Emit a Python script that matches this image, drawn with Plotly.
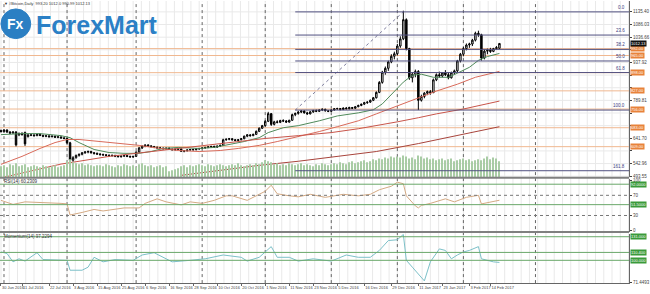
import plotly.graph_objects as go
import pandas as pd

# ---------------- data ----------------
dates = pd.bdate_range("2016-06-30", "2017-02-17")
bar = list(range(len(dates)))

open_ = [672, 668, 674, 666, 662, 666, 655, 661, 664, 648,
         655, 654, 652, 657, 653, 650, 651, 648, 650, 646,
         647, 643, 641, 624, 556, 566, 575, 579, 585, 588,
         590, 585, 583, 580, 578, 577, 575, 574, 575, 572,
         570, 572, 574, 571, 569, 571, 588, 604, 611, 615,
         612, 609, 606, 604, 603, 601, 603, 599, 597, 599,
         600, 591, 593, 596, 598, 597, 600, 602, 604, 606,
         608, 610, 607, 611, 614, 636, 638, 640, 636, 633,
         636, 640, 650, 655, 652, 657, 669, 681, 691, 708,
         738, 696, 706, 704, 711, 709, 705, 712, 734, 739,
         744, 748, 741, 737, 745, 750, 747, 752, 755, 749,
         747, 752, 757, 758, 754, 760, 757, 762, 759, 765,
         770, 775, 781, 783, 790, 800, 821, 860, 900, 915,
         940, 962, 972, 1002, 1030, 1105, 992, 878, 892, 903,
         790, 805, 818, 824, 820, 870, 890, 885, 897, 890,
         878, 898, 905, 944, 970, 992, 1006, 1010, 1025, 1052,
         1046, 955, 982, 986, 981, 992, 993.20]
high = [676, 678, 677, 670, 669, 670, 664, 665, 668, 658,
        660, 659, 660, 661, 656, 655, 654, 653, 652, 650,
        649, 647, 644, 628, 572, 578, 582, 588, 592, 594,
        593, 588, 586, 584, 582, 580, 579, 578, 577, 575,
        574, 576, 576, 574, 573, 590, 608, 614, 618, 619,
        615, 612, 610, 608, 606, 605, 606, 602, 601, 603,
        602, 595, 598, 600, 601, 602, 604, 606, 608, 610,
        612, 613, 613, 617, 640, 641, 643, 642, 639, 638,
        642, 652, 658, 658, 660, 672, 684, 694, 712, 745,
        740, 710, 712, 714, 716, 713, 714, 738, 742, 748,
        752, 751, 745, 748, 753, 754, 755, 758, 757, 752,
        755, 760, 761, 760, 762, 764, 765, 764, 767, 773,
        777, 784, 786, 793, 803, 825, 865, 905, 922, 945,
        970, 980, 1010, 1040, 1140, 1110, 995, 900, 910, 908,
        812, 822, 828, 830, 875, 895, 902, 900, 908, 898,
        902, 910, 948, 975, 998, 1012, 1015, 1030, 1058, 1062,
        1050, 988, 992, 995, 995, 1002, 1012.0]
low = [664, 665, 663, 658, 660, 610, 650, 652, 612, 645,
       650, 648, 650, 650, 646, 646, 644, 645, 643, 642,
       640, 638, 620, 545, 550, 562, 570, 575, 581, 583,
       582, 578, 577, 574, 573, 571, 570, 570, 568, 567,
       566, 569, 568, 566, 565, 569, 585, 600, 607, 608,
       606, 603, 601, 600, 598, 597, 596, 594, 593, 596,
       588, 587, 590, 593, 594, 595, 597, 599, 601, 603,
       605, 604, 605, 608, 612, 632, 634, 633, 630, 631,
       634, 638, 646, 648, 650, 655, 666, 678, 688, 705,
       690, 692, 700, 701, 705, 702, 703, 710, 728, 734,
       740, 738, 734, 735, 741, 744, 745, 748, 746, 744,
       745, 750, 753, 751, 752, 755, 755, 756, 757, 763,
       767, 772, 776, 780, 787, 797, 818, 855, 890, 905,
       935, 950, 965, 995, 1025, 985, 870, 860, 880, 752,
       785, 798, 810, 812, 818, 865, 878, 880, 885, 872,
       875, 890, 900, 938, 962, 985, 995, 1002, 1020, 1038,
       945, 950, 970, 975, 978, 988, 990.99]
close = [668, 674, 666, 662, 666, 616, 661, 656, 620, 655,
         654, 652, 657, 653, 650, 651, 648, 650, 646, 647,
         643, 641, 624, 556, 566, 575, 579, 585, 588, 590,
         585, 583, 580, 578, 577, 575, 574, 575, 572, 570,
         572, 574, 571, 569, 571, 588, 604, 611, 615, 612,
         609, 606, 604, 603, 601, 603, 599, 597, 599, 600,
         591, 593, 596, 598, 597, 600, 602, 604, 606, 608,
         610, 607, 611, 614, 636, 638, 640, 636, 633, 636,
         640, 650, 655, 652, 657, 669, 681, 691, 708, 738,
         696, 706, 704, 711, 709, 705, 712, 734, 739, 744,
         748, 741, 737, 745, 750, 747, 752, 755, 749, 747,
         752, 757, 758, 754, 760, 757, 762, 759, 765, 770,
         775, 781, 783, 790, 800, 821, 860, 900, 915, 940,
         962, 972, 1002, 1030, 1105, 992, 878, 892, 903, 790,
         805, 818, 824, 820, 870, 890, 885, 897, 890, 878,
         898, 905, 944, 970, 992, 1006, 1010, 1025, 1052, 1046,
         955, 982, 986, 981, 992, 996, 1012.13]
volume = [11, 12, 10, 13, 12, 14, 11, 12, 13, 10, 11, 12, 11, 10, 12, 11, 10, 11, 12, 10, 11, 12,
          16, 18, 15, 14, 13, 14, 12, 13, 12, 11, 12,
          12, 11, 13, 12, 11, 10, 12, 11, 13, 12, 11, 12, 10, 13, 14, 12, 11, 12, 10, 11, 12, 10, 11,
          6, 7, 8, 9, 11, 12, 10,
          12, 11, 12, 13, 12, 11, 13, 12, 11, 12, 13, 12, 11, 12, 13, 12, 14, 12, 11, 12, 13, 12, 14, 13, 15,
          17, 16, 15, 13, 14, 12, 13, 12, 14, 13, 12, 13, 14, 12, 13, 12, 11, 13, 12, 14, 13, 12, 13,
          14, 13, 15, 14, 13, 15, 16, 14, 15, 16, 17, 15, 16, 18, 17, 19, 18, 20, 19, 21, 20,
          21, 20, 22, 21, 19, 20, 18, 22, 21, 19, 20, 18, 19, 17, 18, 19, 17, 18, 19, 16, 17, 18, 19, 17,
          18, 16, 17, 18, 17, 19, 21, 18, 20, 19, 16]

tick_idx = [0, 7, 16, 24, 32, 40, 48, 56, 64, 72, 80, 88, 96, 104, 112, 121, 130, 139, 147, 156, 163]
tick_labels = ["30 Jun 2016", "11 Jul 2016", "22 Jul 2016", "3 Aug 2016", "15 Aug 2016", "25 Aug 2016",
               "6 Sep 2016", "16 Sep 2016", "28 Sep 2016", "10 Oct 2016", "20 Oct 2016", "1 Nov 2016",
               "11 Nov 2016", "23 Nov 2016", "5 Dec 2016", "16 Dec 2016", "29 Dec 2016", "11 Jan 2017",
               "23 Jan 2017", "3 Feb 2017", "14 Feb 2017"]
separators = [1, 22, 45, 67, 88, 110, 132, 154, 178]

price_ticks = [1135.40, 1086.03, 1036.66, 987.29, 937.92, 888.55, 839.18, 789.81,
               740.44, 691.07, 641.70, 592.33, 542.96, 493.55]

ma20_x = [0, 7, 13, 20, 23, 26, 31, 36, 41, 46, 50, 54, 59, 66, 71, 76, 81, 86, 89, 94, 99, 106, 112, 119, 124, 127, 130, 134, 137, 140, 144, 149, 152, 156, 159, 162, 166]
ma20_y = [656, 660, 660, 652, 644, 625, 598, 586, 583, 583, 590, 602, 606, 602, 606, 617, 629, 644, 664, 683, 691, 710, 729, 741, 753, 776, 811, 861, 888, 892, 880, 880, 896, 919, 946, 961, 973]
ma50_x = [0, 7, 13, 18, 22, 26, 33, 40, 46, 53, 59, 66, 73, 79, 86, 92, 99, 106, 112, 119, 125, 132, 139, 145, 152, 158, 166]
ma50_y = [540, 571, 602, 625, 637, 637, 629, 621, 614, 602, 594, 590, 594, 602, 614, 629, 648, 668, 687, 710, 737, 768, 799, 826, 853, 880, 903]
ma100_x = [0, 10, 20, 26, 36, 45, 56, 67, 79, 88, 99, 110, 119, 125, 132, 139, 145, 154, 160, 166]
ma100_y = [487, 514, 541, 552, 571, 583, 598, 614, 629, 641, 652, 664, 679, 691, 706, 722, 737, 756, 772, 787]
ma200_x = [60, 73, 86, 99, 109, 125, 139, 152, 166]
ma200_y = [497, 517, 536, 552, 567, 590, 621, 652, 687]

fib_names = ["0.0", "23.6", "38.2", "50.0", "61.8", "100.0", "161.8"]
fib_ratio = [0.0, 0.236, 0.382, 0.5, 0.618, 1.0, 1.618]
fib_high = 1135.40
fib_low = 752.0
fib_start = 98
fib_end = 134

levels_orange = [992, 965, 898, 827, 756, 683, 609]

rsi_x = [0, 4, 8, 14, 20, 22, 23, 27, 31, 34, 37, 41, 46, 48, 52, 55, 60, 63, 67, 71, 75, 77, 82, 88, 90, 92, 96, 99, 103, 108, 114, 119, 123, 126, 130, 132, 134, 135, 138, 139, 140, 143, 148, 151, 155, 158, 159, 160, 163, 166]
rsi_y = [60, 52, 57, 56, 54, 53, 31, 36, 42, 39, 42, 45, 45, 54, 63, 57, 51, 57, 54, 60, 69, 69, 60, 78, 90, 73, 69, 67, 72, 66, 72, 69, 72, 81, 88, 96, 93, 69, 49, 45, 50, 54, 63, 57, 66, 70, 70, 53, 57, 60.23]
mom_x = [0, 2, 4, 6, 8, 12, 14, 22, 23, 27, 29, 31, 34, 38, 44, 47, 51, 54, 57, 63, 68, 74, 80, 82, 86, 90, 92, 96, 99, 104, 110, 115, 119, 123, 126, 129, 132, 134, 135, 137, 141, 143, 146, 148, 150, 152, 154, 156, 159, 160, 164, 166]
mom_y = [111, 109, 98, 102, 99, 110, 101, 100, 87, 87, 91, 104, 98, 101, 100, 107, 110, 104, 98, 100, 102, 107, 104, 99, 104, 118, 104, 104, 99, 102, 99, 107, 104, 104, 113, 126, 127, 134, 100, 91, 73, 98, 115, 113, 102, 107, 111, 113, 118, 102, 98, 97.23]

# ---------------- geometry ----------------
W, H = 650, 294
XR = [-0.33, 209.2]
XE = 635 / W
P_LO, P_HI = 489.8, 1177.9


def py(p):
    return 1 - p / H


def price_px(v):
    return 178 * (P_HI - v) / (P_HI - P_LO)


fig = go.Figure()

fig.add_trace(go.Bar(x=bar, y=volume, width=0.3, marker=dict(color="#a9cca5", line_width=0),
                     yaxis="y4", hoverinfo="skip"))
fig.add_trace(go.Candlestick(x=bar, open=open_, high=high, low=low, close=close,
                             increasing=dict(line=dict(color="black", width=1), fillcolor="white"),
                             decreasing=dict(line=dict(color="black", width=1), fillcolor="black"),
                             whiskerwidth=0, yaxis="y"))
for xs, ys, col in [(ma20_x, ma20_y, "#4f8a5a"), (ma50_x, ma50_y, "#d86a5a"),
                    (ma100_x, ma100_y, "#c8554a"), (ma200_x, ma200_y, "#a8443c")]:
    fig.add_trace(go.Scatter(x=xs, y=ys, mode="lines", line=dict(color=col, width=1), yaxis="y"))
fig.add_trace(go.Scatter(x=[fib_start, fib_end], y=[fib_low, fib_high], mode="lines",
                         line=dict(color="#8080a0", width=1, dash="dot"), yaxis="y"))
fig.add_trace(go.Scatter(x=rsi_x, y=rsi_y, mode="lines", line=dict(color="#d4aa84", width=1), yaxis="y2"))
fig.add_trace(go.Scatter(x=mom_x, y=mom_y, mode="lines", line=dict(color="#7cc0c8", width=1), yaxis="y3"))

shapes = []
g = 0.0
while g < XR[1]:
    shapes.append(dict(type="line", xref="x", yref="paper", x0=g, x1=g, y0=py(285), y1=1,
                       line=dict(color="#e9e9e9", width=1), layer="below"))
    g += 2.75
for t in price_ticks:
    shapes.append(dict(type="line", xref="paper", yref="y", x0=0, x1=XE, y0=t, y1=t,
                       line=dict(color="#e9e9e9", width=1), layer="below"))
for s in separators:
    shapes.append(dict(type="line", xref="x", yref="paper", x0=s, x1=s, y0=py(285), y1=1,
                       line=dict(color="#666666", width=1, dash="dot"), layer="below"))
for lv in levels_orange:
    shapes.append(dict(type="line", xref="paper", yref="y", x0=0, x1=XE, y0=lv, y1=lv,
                       line=dict(color="#f0b890", width=1), layer="below"))
fib_prices = [fib_high - r * (fib_high - fib_low) for r in fib_ratio]
for fp in fib_prices:
    shapes.append(dict(type="line", xref="x", yref="y", x0=fib_start, x1=XR[1], y0=fp, y1=fp,
                       line=dict(color="#505080", width=1)))
for v in [70, 30]:
    shapes.append(dict(type="line", xref="paper", yref="y2", x0=0, x1=XE, y0=v, y1=v,
                       line=dict(color="#777777", width=1, dash="dot")))
for v in [92, 51.5]:
    shapes.append(dict(type="line", xref="paper", yref="y2", x0=0, x1=XE, y0=v, y1=v,
                       line=dict(color="#6aa86a", width=1)))
for v in [131, 110.4, 100]:
    shapes.append(dict(type="line", xref="paper", yref="y3", x0=0, x1=XE, y0=v, y1=v,
                       line=dict(color="#6aa86a", width=1)))
for yy in [178.5, 233.5]:
    shapes.append(dict(type="line", xref="paper", yref="paper", x0=0, x1=XE, y0=py(yy), y1=py(yy),
                       line=dict(color="#808080", width=2)))
shapes.append(dict(type="circle", xref="paper", yref="paper", x0=1 / W, x1=31 / W, y0=py(38), y1=py(8),
                   fillcolor="#2b7fc3", line=dict(color="#2b7fc3", width=1)))

ann = []
fs = 4.5
ann.append(dict(x=2 / W, y=py(2.5), xref="paper", yref="paper", xanchor="left", yanchor="middle",
                text="▼ #Bitcoin,Daily  993.20 1012.0 990.99 1012.13", showarrow=False,
                font=dict(size=4, color="#333")))
ann.append(dict(x=16 / W, y=py(23), xref="paper", yref="paper", xanchor="center", yanchor="middle",
                text="<b>Fx</b>", showarrow=False, font=dict(size=14, color="white", family="Arial")))
ann.append(dict(x=34 / W, y=py(24), xref="paper", yref="paper", xanchor="left", yanchor="middle",
                text="<b>ForexMart</b>", showarrow=False,
                font=dict(size=25, color="#2b80c6", family="Liberation Sans")))
ann.append(dict(x=2 / W, y=py(182.5), xref="paper", yref="paper", xanchor="left", yanchor="middle",
                text="RSI(14) 60.2309", showarrow=False, font=dict(size=fs, color="#333")))
ann.append(dict(x=2 / W, y=py(238), xref="paper", yref="paper", xanchor="left", yanchor="middle",
                text="Momentum(14) 97.2294", showarrow=False, font=dict(size=fs, color="#333")))
for name, fp in zip(fib_names, fib_prices):
    ann.append(dict(x=633 / W, y=fp, xref="paper", yref="y", xanchor="right", yanchor="bottom",
                    text=name, showarrow=False, font=dict(size=fs, color="#404080")))
for lv in levels_orange:
    ann.append(dict(x=636 / W, y=lv, xref="paper", yref="y", xanchor="left", yanchor="middle",
                    text=f"{lv:.2f}", showarrow=False, bgcolor="#e8823a",
                    font=dict(size=4, color="white"), borderpad=0))
ann.append(dict(x=636 / W, y=close[-1], xref="paper", yref="y", xanchor="left", yanchor="middle",
                text=f"{close[-1]:.2f}", showarrow=False, bgcolor="#111111",
                font=dict(size=4, color="white"), borderpad=0))
for v, t in [(92, "92.0000"), (51.5, "51.5000")]:
    ann.append(dict(x=636 / W, y=v, xref="paper", yref="y2", xanchor="left", yanchor="middle",
                    text=t, showarrow=False, bgcolor="#3a9a3a", font=dict(size=4, color="white"), borderpad=0))
for v, t in [(131, "131.000"), (110.4, "110.400"), (100, "100.000")]:
    ann.append(dict(x=636 / W, y=v, xref="paper", yref="y3", xanchor="left", yanchor="middle",
                    text=t, showarrow=False, bgcolor="#3a9a3a", font=dict(size=4, color="white"), borderpad=0))

# price tick labels hidden behind the level boxes
box_px = [price_px(v) for v in levels_orange + [close[-1]]]
tick_text = []
for t in price_ticks:
    hidden = any(abs(price_px(t) - b) < 4.6 for b in box_px)
    tick_text.append("" if hidden else f"{t:.2f}")

axfont = dict(size=fs, color="#444", family="Liberation Sans")
fig.update_layout(
    width=W, height=H, margin=dict(l=0, r=0, t=0, b=0),
    paper_bgcolor="white", plot_bgcolor="white", showlegend=False,
    font=dict(family="Liberation Sans"),
    xaxis=dict(domain=[0, XE], range=XR, anchor="y3", tickvals=tick_idx, ticktext=tick_labels,
               tickfont=dict(size=4, color="#444", family="Liberation Sans"), tickangle=0,
               showgrid=False, zeroline=False, ticks="outside", ticklen=2,
               tickcolor="#666", ticklabelposition="outside right", showline=True, linecolor="#666",
               rangeslider=dict(visible=False)),
    yaxis=dict(domain=[py(178), 1], range=[P_LO, P_HI], side="right", anchor="x",
               tickvals=price_ticks, ticktext=tick_text, tickfont=axfont,
               showgrid=False, zeroline=False, showline=True, linecolor="#666", ticks="outside", ticklen=2),
    yaxis2=dict(domain=[py(233), py(180)], range=[-1.96, 102], side="right", anchor="x",
                tickvals=[0, 30, 70, 100], tickfont=axfont, showgrid=False, zeroline=False,
                showline=True, linecolor="#666", ticks="outside", ticklen=2),
    yaxis3=dict(domain=[py(285), py(235)], range=[70.1, 135.1], side="right", anchor="x",
                tickvals=[71.4493], ticktext=["71.4493"], tickfont=axfont, showgrid=False, zeroline=False,
                showline=True, linecolor="#666", ticks="outside", ticklen=2),
    yaxis4=dict(overlaying="y", range=[0, 178], visible=False),
    shapes=shapes, annotations=ann,
)
fig.write_html("out.html")
